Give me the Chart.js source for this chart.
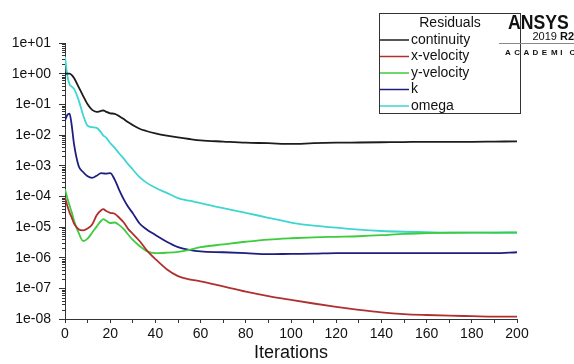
<!DOCTYPE html>
<html>
<head>
<meta charset="utf-8">
<script src="https://cdn.jsdelivr.net/npm/chart.js@4.4.1/dist/chart.umd.min.js"></script>
<style>
  html, body { margin: 0; padding: 0; background: #fff; }
  #wrap { width: 574px; height: 364px; position: relative; }
</style>
</head>
<body>
<div id="wrap"><canvas id="c"></canvas></div>
<script>
// residual history
var iterations = [0,1,2,3,4,6,8,10,12,14,16,17,18,20,22,24,26,28,30,33,36,40,45,50,55,60,70,80,90,100,110,120,130,140,150,160,170,180,190,200];

var continuity = [1.0,1.0,1.0,0.9,0.72,0.37,0.19,0.1,0.066,0.057,0.061,0.063,0.058,0.051,0.049,0.041,0.033,0.026,0.021,0.016,0.0135,0.0113,0.0095,0.0083,0.0074,0.0067,0.0061,0.0056,0.0054,0.0051,0.0054,0.0056,0.0057,0.0058,0.0059,0.006,0.006,0.006,0.0061,0.0062];

var xVelocity = [9.4e-5,5e-5,3e-5,2e-5,1.3e-5,8.5e-6,7.8e-6,9e-6,1.2e-5,2.4e-5,3.5e-5,3.8e-5,3.4e-5,2.9e-5,2.7e-5,2e-5,1.4e-5,8.5e-6,6e-6,3.5e-6,1.8e-6,9e-7,4.2e-7,2.5e-7,1.95e-7,1.7e-7,1.15e-7,7.8e-8,5.6e-8,4.2e-8,3.2e-8,2.5e-8,2e-8,1.65e-8,1.45e-8,1.35e-8,1.28e-8,1.24e-8,1.2e-8,1.2e-8];

var yVelocity = [1.7e-4,9e-5,5e-5,3e-5,1.6e-5,6.5e-6,3.5e-6,4.2e-6,6.5e-6,1.03e-5,1.6e-5,1.8e-5,1.65e-5,1.35e-5,1.4e-5,1.15e-5,8.5e-6,5.6e-6,3.8e-6,2.4e-6,1.65e-6,1.4e-6,1.45e-6,1.55e-6,1.8e-6,2.2e-6,2.7e-6,3.3e-6,3.9e-6,4.3e-6,4.6e-6,4.8e-6,5e-6,5.4e-6,6e-6,6.3e-6,6.5e-6,6.6e-6,6.6e-6,6.7e-6];

var kRes = [0.03,0.045,0.05,0.02,0.005,0.001,0.00062,0.00045,0.0004,0.00047,0.00057,0.00056,0.00055,0.00057,0.00035,0.00016,8e-5,4.5e-5,2.8e-5,1.3e-5,8.5e-6,5.5e-6,3.3e-6,2.2e-6,1.8e-6,1.6e-6,1.5e-6,1.4e-6,1.3e-6,1.33e-6,1.35e-6,1.4e-6,1.4e-6,1.4e-6,1.4e-6,1.4e-6,1.4e-6,1.4e-6,1.4e-6,1.5e-6];

var omega = [3.6,0.9,0.45,0.38,0.32,0.14,0.045,0.02,0.018,0.017,0.012,0.0095,0.0085,0.0055,0.0038,0.0025,0.0017,0.0011,0.00075,0.00042,0.00028,0.00019,0.00013,8.8e-5,7.2e-5,6e-5,4.1e-5,2.9e-5,2e-5,1.4e-5,1.1e-5,9.5e-6,8.2e-6,7.4e-6,7e-6,6.8e-6,6.6e-6,6.6e-6,6.5e-6,6.5e-6];

var seriesNames = ["continuity", "x-velocity", "y-velocity", "k", "omega"];
var seriesData = [continuity, xVelocity, yVelocity, kRes, omega];
var seriesColors = ["#1c1c1c", "#b03030", "#3ecb3e", "#1e1e80", "#3fd6d2"];

var FONT = "'Liberation Sans', Arial, sans-serif";

function pts(arr) {
  return arr.map(function(v, i) { return { x: iterations[i], y: v }; });
}

var datasets = seriesData.map(function(arr, i) {
  return {
    label: seriesNames[i],
    data: pts(arr),
    borderColor: seriesColors[i],
    backgroundColor: seriesColors[i],
    borderWidth: 1.8,
    pointRadius: 0,
    cubicInterpolationMode: "monotone",
    fill: false
  };
});

// minor log ticks on the y axis
var minorTicks = {
  id: "minorTicks",
  afterDraw: function(chart) {
    var ctx = chart.ctx, y = chart.scales.y, left = chart.chartArea.left;
    ctx.save();
    ctx.strokeStyle = "#333";
    ctx.lineWidth = 1;
    for (var e = -8; e < 1; e++) {
      for (var m = 2; m <= 9; m++) {
        var py = Math.round(y.getPixelForValue(m * Math.pow(10, e))) + 0.5;
        ctx.beginPath();
        ctx.moveTo(left - 3, py);
        ctx.lineTo(left, py);
        ctx.stroke();
      }
    }
    ctx.restore();
  }
};

// boxed legend + logo in the top right
var residualLegend = {
  id: "residualLegend",
  afterDraw: function(chart) {
    var ctx = chart.ctx;
    ctx.save();
    ctx.strokeStyle = "#333";
    ctx.lineWidth = 1;
    ctx.fillStyle = "#fff";
    ctx.fillRect(379.5, 13.5, 141, 100);
    ctx.strokeRect(379.5, 13.5, 141, 100);
    ctx.fillStyle = "#111";
    ctx.font = "14px " + FONT;
    ctx.textBaseline = "middle";
    ctx.textAlign = "center";
    ctx.fillText("Residuals", 450, 23);
    ctx.textAlign = "left";
    chart.data.datasets.forEach(function(ds, i) {
      var yy = 40 + i * 16.5;
      ctx.strokeStyle = ds.borderColor;
      ctx.lineWidth = 1.5;
      ctx.beginPath();
      ctx.moveTo(380, yy);
      ctx.lineTo(409, yy);
      ctx.stroke();
      ctx.fillStyle = "#111";
      ctx.fillText(ds.label, 411, yy);
    });

    // logo
    ctx.fillStyle = "#111";
    ctx.textBaseline = "alphabetic";
    ctx.textAlign = "left";
    ctx.save();
    ctx.translate(508, 29);
    ctx.scale(0.84, 1);
    ctx.font = "bold 21px " + FONT;
    ctx.fillText("ANSYS", 0, 0);
    ctx.restore();
    ctx.textAlign = "right";
    ctx.font = "bold 11px " + FONT;
    ctx.fillText("R2", 574, 40);
    var rw = ctx.measureText("R2").width;
    ctx.font = "11px " + FONT;
    ctx.fillText("2019 ", 574 - rw, 40);
    ctx.strokeStyle = "#888";
    ctx.lineWidth = 1;
    ctx.beginPath();
    ctx.moveTo(499, 43.5);
    ctx.lineTo(574, 43.5);
    ctx.stroke();
    ctx.textAlign = "left";
    ctx.font = "bold 8px " + FONT;
    "ACADEMIC".split("").forEach(function(ch, i) {
      ctx.fillText(ch, 505 + i * 9.2, 55);
    });
    ctx.restore();
  }
};

function expLabel(v) {
  var e = Math.round(Math.log10(v));
  var a = Math.abs(e);
  return "1e" + (e < 0 ? "-" : "+") + (a < 10 ? "0" : "") + a;
}

new Chart(document.getElementById("c"), {
  type: "line",
  data: { datasets: datasets },
  options: {
    responsive: true,
    maintainAspectRatio: false,
    animation: false,
    layout: { padding: { top: 43, right: 57, left: 0, bottom: 0 } },
    plugins: {
      legend: { display: false },
      tooltip: { enabled: false }
    },
    scales: {
      x: {
        type: "linear",
        min: 0,
        max: 200,
        afterFit: function(s) { s.height = 45; },
        ticks: {
          stepSize: 10,
          autoSkip: false,
          maxRotation: 0,
          padding: 3,
          color: "#111",
          font: { family: FONT, size: 14 },
          callback: function(v) { return v % 20 === 0 ? String(v) : ""; }
        },
        grid: { drawOnChartArea: false, drawTicks: true, tickLength: 4, tickColor: "#333" },
        border: { display: true, color: "#333", width: 1 },
        title: {
          display: true,
          text: "Iterations",
          color: "#111",
          font: { family: FONT, size: 18 },
          padding: { top: 0, bottom: 0 }
        }
      },
      y: {
        type: "logarithmic",
        min: 1e-8,
        max: 10,
        afterFit: function(s) { s.width = 65; },
        afterBuildTicks: function(s) {
          var t = [];
          for (var e = -8; e <= 1; e++) t.push({ value: Math.pow(10, e) });
          s.ticks = t;
        },
        ticks: {
          autoSkip: false,
          padding: 8,
          color: "#111",
          font: { family: FONT, size: 14 },
          callback: function(v) { return expLabel(v); }
        },
        grid: { drawOnChartArea: false, drawTicks: true, tickLength: 6, tickColor: "#333" },
        border: { display: true, color: "#333", width: 1 }
      }
    }
  },
  plugins: [minorTicks, residualLegend]
});
</script>
</body>
</html>
